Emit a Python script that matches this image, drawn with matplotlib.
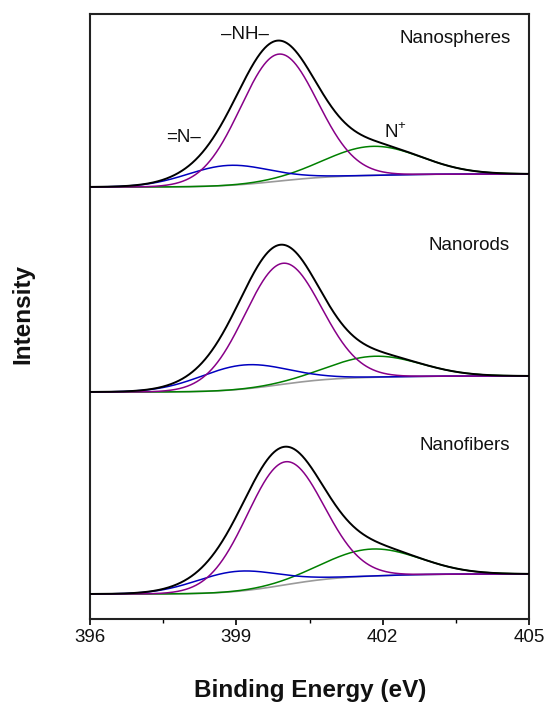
import numpy as np
import matplotlib
matplotlib.use("Agg")
import matplotlib.pyplot as plt
from matplotlib.ticker import MultipleLocator, NullLocator

plt.rcParams['font.family'] = ['Liberation Sans', 'DejaVu Sans']
plt.rcParams['mathtext.fontset'] = 'custom'
plt.rcParams['mathtext.rm'] = 'Liberation Sans'

# N 1s spectra of the three morphologies, stacked from top to bottom
samples = ["Nanospheres", "Nanorods", "Nanofibers"]
offsets = [432, 227, 25]          # vertical shift of each spectrum (a.u.)
bg_steps = [13, 16, 20]           # Shirley background step (a.u.)

# fitted components: =N– (imine), –NH– (amine), N+ (cationic nitrogen)
imine_center = [398.83, 399.14, 399.00]
imine_height = [20, 24, 20]
imine_fwhm = [2.0, 2.1, 2.0]

amine_center = [399.87, 399.95, 400.00]
amine_height = [127, 121, 123]
amine_fwhm = [1.85, 1.85, 1.85]

cation_center = [401.80, 401.84, 401.78]
cation_height = [29, 21, 27]
cation_fwhm = [2.3, 2.2, 2.3]

xticks = [396, 399, 402, 405]

energy = np.linspace(396, 405, 1801)


def gauss(e, c, h, w):
    return h * np.exp(-4 * np.log(2) * (e - c) ** 2 / w ** 2)


def shirley(total, base, step):
    cum = np.concatenate([[0], np.cumsum((total[1:] + total[:-1]) / 2)])
    return base + step * cum / cum[-1]


fig = plt.figure(figsize=(5.47, 7.02), dpi=100)
ax = fig.add_axes([90 / 547, 1 - 619 / 702, (529 - 90) / 547, (619 - 14) / 702])

for i in range(3):
    imine = gauss(energy, imine_center[i], imine_height[i], imine_fwhm[i])
    amine = gauss(energy, amine_center[i], amine_height[i], amine_fwhm[i])
    cation = gauss(energy, cation_center[i], cation_height[i], cation_fwhm[i])
    total = imine + amine + cation
    bg = shirley(total, offsets[i], bg_steps[i])
    ax.plot(energy, bg, color='#9a9a9a', lw=1.2, zorder=2)
    ax.plot(energy, bg + cation, color='#008000', lw=1.1, zorder=3)
    ax.plot(energy, bg + imine, color='#0000c0', lw=1.1, zorder=3)
    ax.plot(energy, bg + amine, color='#880088', lw=1.1, zorder=4)
    ax.plot(energy, bg + total, color='black', lw=1.4, zorder=5)

txt = dict(fontsize=13.5, color='#111111', va='baseline')
ax.text(404.63, 576, samples[0], ha='right', **txt)
ax.text(404.61, 369, samples[1], ha='right', **txt)
ax.text(404.61, 169, samples[2], ha='right', **txt)
ax.text(399.18, 580, "\u2013NH\u2013", ha='center', **txt)
ax.text(397.91, 477, "=N\u2013", ha='center', **txt)
ax.text(402.03, 481, r"N$^{+}$", ha='left', **txt)

ax.set_xlim(396, 405)
ax.set_ylim(0, 605)
ax.set_xticks(xticks)
ax.xaxis.set_minor_locator(MultipleLocator(1.5))
ax.yaxis.set_major_locator(NullLocator())
ax.tick_params(axis='x', which='major', direction='out', length=4, width=1.2,
               labelsize=13.5, pad=3, labelcolor='#111111')
ax.tick_params(axis='x', which='minor', direction='out', length=3, width=1.0)
for s in ax.spines.values():
    s.set_linewidth(1.5)
    s.set_color('#222222')

fig.text(310 / 547, 1 - 690 / 702, "Binding Energy (eV)", ha='center', va='center',
         fontsize=17.5, fontweight='bold', color='#111111')
fig.text(23 / 547, 1 - 314 / 702, "Intensity", ha='center', va='center',
         rotation=90, fontsize=17.5, fontweight='bold', color='#111111')

fig.savefig("out.png", dpi=100)
